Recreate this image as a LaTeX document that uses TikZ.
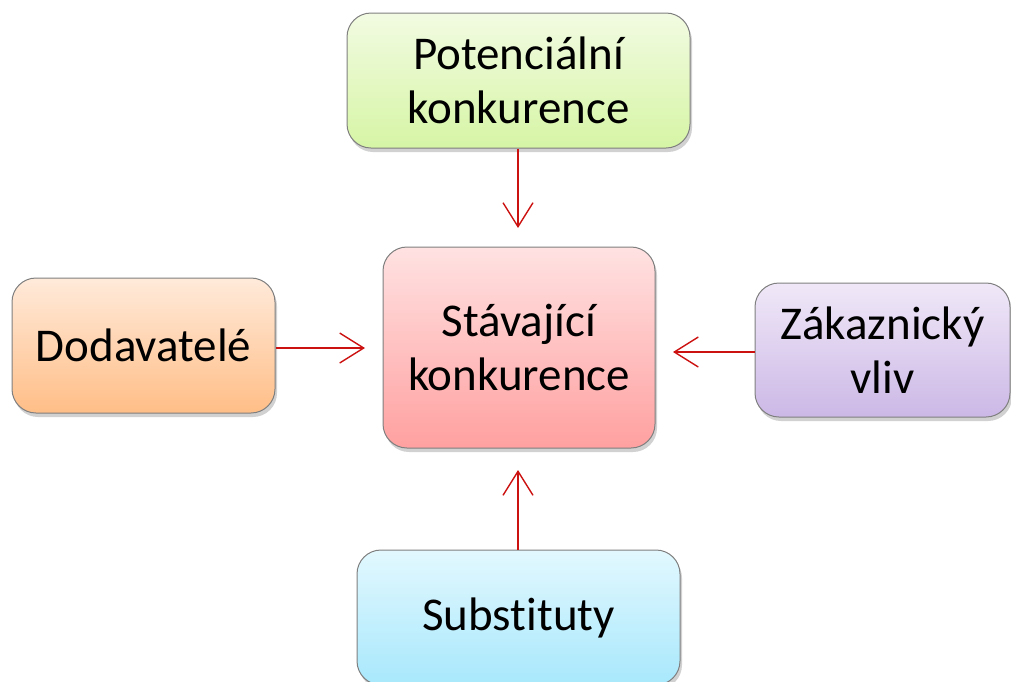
\documentclass[tikz,border=0pt]{standalone}
\usepackage{fontspec}
\setmainfont{Carlito}[Ligatures=NoCommon]
\usetikzlibrary{arrows.meta,shadows}
\definecolor{edge}{HTML}{7F7F7F}
\definecolor{arr}{HTML}{CC1111}
\begin{document}
\begin{tikzpicture}[x=1pt,y=-1pt,
  box/.style={draw=edge, line width=1pt, rounded corners=24pt, align=center,
    font=\fontsize{47}{54}\selectfont, inner sep=0pt,
    drop shadow={shadow xshift=2pt, shadow yshift=-4pt, opacity=0.3, fill=black!60}},
  conn/.style={draw=arr, line width=1.4pt, -{Straight Barb[length=24pt,width=30pt]}}]
\useasboundingbox (0,0) rectangle (1011,681);
\node[box, top color={rgb,255:red,242;green,251;blue,226}, bottom color={rgb,255:red,214;green,245;blue,165},
  minimum width=343pt, minimum height=135pt] (pot) at (518.5,80.5) {Potenciální\\konkurence};
\node[box, top color={rgb,255:red,255;green,234;blue,218}, bottom color={rgb,255:red,255;green,190;blue,135},
  minimum width=263pt, minimum height=135pt] (dod) at (143.5,345.5) {Dodavatelé};
\node[box, top color={rgb,255:red,240;green,232;blue,248}, bottom color={rgb,255:red,204;green,184;blue,230},
  minimum width=255pt, minimum height=134pt] (zak) at (882.5,350) {Zákaznický\\vliv};
\node[box, top color={rgb,255:red,255;green,226;blue,226}, bottom color={rgb,255:red,255;green,160;blue,160},
  minimum width=272pt, minimum height=201pt] (sta) at (519,347.5) {Stávající\\konkurence};
\node[box, top color={rgb,255:red,226;green,248;blue,254}, bottom color={rgb,255:red,168;green,232;blue,252},
  minimum width=323pt, minimum height=135pt] (sub) at (518.5,617.5) {Substituty};
\coordinate (t1) at (518,228);
\coordinate (t2) at (365,348);
\coordinate (t3) at (673,352);
\coordinate (t4) at (518,470);
\draw[conn] (pot.south -| t1) -- (t1);
\draw[conn] (dod.east |- t2) -- (t2);
\draw[conn] (zak.west |- t3) -- (t3);
\draw[conn] (sub.north -| t4) -- (t4);
\end{tikzpicture}
\end{document}
